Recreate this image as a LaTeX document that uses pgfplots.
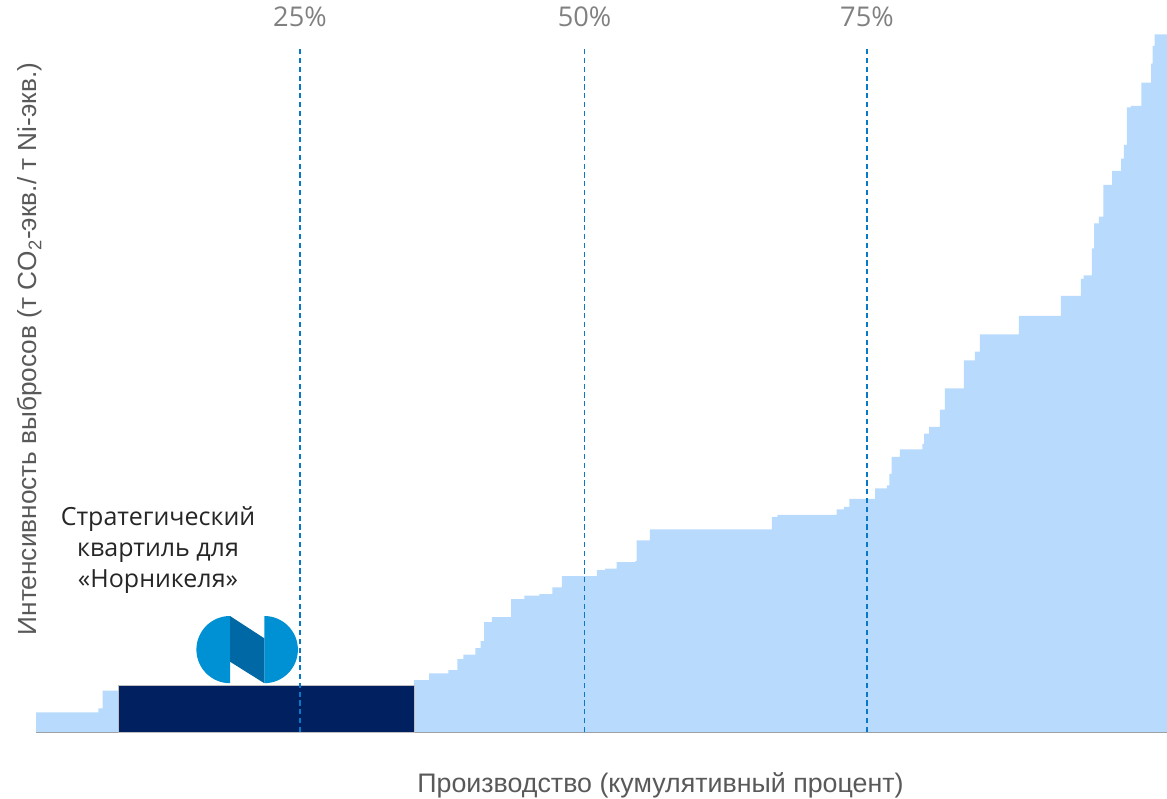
\documentclass[border=0pt]{standalone}
\usepackage{pgfplots}
\pgfplotsset{compat=1.18}
\usepackage{fontspec}
\setmainfont{Liberation Sans}
\newfontfamily\opensans{Open Sans}
\definecolor{areablue}{RGB}{184,218,253}
\definecolor{navybar}{RGB}{0,32,96}
\definecolor{qline}{RGB}{10,120,200}
\definecolor{labgray}{RGB}{89,89,89}
\definecolor{qgray}{RGB}{128,128,128}
\definecolor{txtdark}{RGB}{38,38,38}
\definecolor{logoL}{RGB}{0,144,212}
\definecolor{logoD}{RGB}{0,104,165}
\begin{document}
\begin{tikzpicture}
\path[use as bounding box] (-18pt,-33pt) rectangle (565.5pt,366pt);
\begin{axis}[
  at={(0pt,0pt)}, anchor=south west,
  width=565.5pt, height=349pt, scale only axis,
  xmin=1.72, xmax=101.46, ymin=0, ymax=698,
  axis x line=bottom, hide y axis,
  x axis line style={draw=black!40, line width=1pt, -},
  xtick=\empty, ytick=\empty,
  clip=false,
]
% industry cost curve (cumulative production %, emission intensity)
\addplot[const plot, fill=areablue, draw=none] coordinates {
(1.72,19.7) (7.21,23.7) (7.60,41.3) (8.98,46.5) (35.05,52) (36.38,58.7)
(38.08,62) (38.87,73) (39.40,77.3) (40.46,84) (40.93,91) (41.23,110)
(41.93,115) (43.61,133) (44.78,136.3) (46.10,138) (47.25,144.7) (48.10,156)
(51.19,162) (51.92,163.3) (52.93,170) (54.57,171) (54.69,191.7) (55.86,202.7)
(66.62,215) (67.09,217) (72.33,222.7) (72.97,225) (73.44,233) (75.73,243.7)
(76.76,246.7) (76.97,258) (77.18,275) (77.91,282.7) (79.88,288) (80.05,298.3)
(80.49,305) (81.44,322.3) (81.88,343.7) (83.55,371.7) (84.52,380.3) (84.96,397.7)
(88.40,416) (92.11,436) (93.87,453) (94.11,456.7) (94.84,483.7) (95.04,508.7)
(95.46,515.3) (95.84,547) (96.63,561) (97.42,573.3) (97.66,587) (97.93,624.7)
(98.28,626) (99.19,649.3) (100.07,668.3) (100.19,686) (100.37,697.7) (101.46,697.7)
} \closedcycle;
% Nornickel
\addplot[const plot, fill=navybar, draw=black!25, line width=0.4pt] coordinates {
(8.98,46.5) (35.05,46.5)
} \closedcycle;
% quartile lines
\draw[qline, line width=0.8pt, dash pattern=on 2.6pt off 1.8pt] (axis cs:25,0) -- (axis cs:25,684);
\draw[qline, line width=0.8pt, dash pattern=on 2.6pt off 1.8pt] (axis cs:50.1,0) -- (axis cs:50.1,684);
\draw[qline, line width=0.8pt, dash pattern=on 2.6pt off 1.8pt] (axis cs:75,0) -- (axis cs:75,684);
\node[anchor=base, font=\opensans\fontsize{13.6}{15}\selectfont, text=qgray] at (axis cs:25,705) {25\%};
\node[anchor=base, font=\opensans\fontsize{13.6}{15}\selectfont, text=qgray] at (axis cs:50.1,705) {50\%};
\node[anchor=base, font=\opensans\fontsize{13.6}{15}\selectfont, text=qgray] at (axis cs:75,705) {75\%};
\node[anchor=base, font=\fontsize{13.4}{15}\selectfont, text=labgray] at (axis cs:56.79,-60) {Производство (кумулятивный процент)};
\end{axis}
% logo
\fill[logoL] (97pt,58pt) arc[start angle=90, end angle=270, radius=16.8pt] -- cycle;
\fill[logoL] (114.15pt,58pt) arc[start angle=90, end angle=-90, radius=16.8pt] -- cycle;
\fill[logoD] (97pt,58pt) -- (114.15pt,46.85pt) -- (114.15pt,24.4pt) -- (97pt,35.15pt) -- cycle;
% labels
\node[align=center, font=\opensans\fontsize{12.5}{15.4}\selectfont, text=txtdark] at (61pt,91pt) {Стратегический\\квартиль для\\«Норникеля»};
\node[rotate=90, font=\fontsize{13.1}{15}\selectfont, text=labgray] at (-3pt,191.5pt) {Интенсивность выбросов (т CO\textsubscript{2}-экв./ т Ni-экв.)};
\end{tikzpicture}
\end{document}
